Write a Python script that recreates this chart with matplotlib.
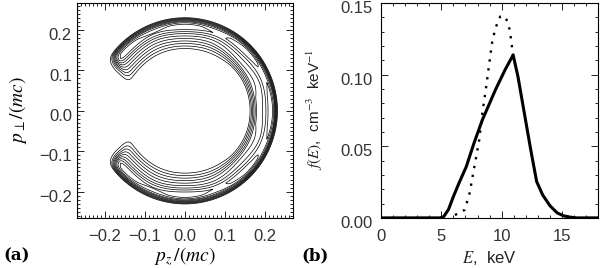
import numpy as np
import matplotlib
matplotlib.use("Agg")
import matplotlib.pyplot as plt
import matplotlib.transforms as mtransforms
from matplotlib.ticker import MultipleLocator

plt.rcParams['font.family'] = ['Liberation Sans', 'DejaVu Sans']
plt.rcParams['mathtext.fontset'] = 'stix'

# --- panel (b): energy spectra ---
E_solid = [0, 4.9, 5.2, 5.6, 6.0, 6.5, 7.07, 7.7, 8.4, 9.0, 9.48, 10.28, 10.95,
           11.35, 11.88, 12.41, 12.9, 13.4, 14.0, 14.6, 15.1, 15.7, 16.2, 18]
f_solid = [0, 0, 0.0009, 0.006, 0.0149, 0.025, 0.0358, 0.052, 0.0684, 0.080,
           0.0893, 0.1033, 0.1137, 0.0986, 0.073, 0.0475, 0.0253, 0.016,
           0.0085, 0.0035, 0.0015, 0.0005, 0, 0]

E_dot = [6.13, 6.94, 7.34, 7.74, 8.14, 8.4, 8.68, 8.94, 9.2, 9.48, 9.88,
         10.15, 10.41, 10.68, 10.81, 10.95]
f_dot = [0.002, 0.0056, 0.0172, 0.0358, 0.0544, 0.073, 0.0893, 0.1056, 0.122,
         0.1324, 0.1405, 0.141, 0.1382, 0.131, 0.122, 0.1137]

# --- panel (a): ring distribution, shape ---
r_knots = [0.10, 0.148, 0.19, 0.20, 0.206, 0.213, 0.219, 0.224, 0.228, 0.232, 0.30]
g_top = [0.0, 0.0, 0.65, 0.85, 0.95, 0.9, 0.74, 0.5, 0.26, 0.0, 0.0]
r_knots_right = [0.10, 0.16, 0.17, 0.18, 0.19, 0.20, 0.21, 0.217, 0.224, 0.233, 0.30]
g_right = [0.0, 0.0, 0.3, 0.6, 0.64, 0.72, 0.9, 0.95, 0.7, 0.0, 0.0]
levels = [0.1, 0.2, 0.3, 0.4, 0.5, 0.6, 0.7, 0.8, 0.9]
cut_s, cut_w = -0.07, 0.012   # loss-cone edge in s = 0.81 pz + 0.58 |p_perp|

pz = np.linspace(-0.27, 0.27, 701)
pp = np.linspace(-0.27, 0.27, 701)
PZ, PP = np.meshgrid(pz, pp)
R = np.hypot(PZ, PP)
TH = np.arctan2(np.abs(PP), PZ)
w_right = np.clip(np.cos(TH), 0, 1) ** 2
G = (1 - w_right) * np.interp(R, r_knots, g_top) + w_right * np.interp(R, r_knots_right, g_right)
S = 0.81 * PZ + 0.58 * np.abs(PP)
H = 0.5 * (1 + np.tanh((S - cut_s) / cut_w))
F = G * H * (1 + 0.04 * np.cos(8 * TH))

fig = plt.figure(figsize=(6.0, 2.68), dpi=100)
ax1 = fig.add_axes([0.128, 0.187, 0.36, 0.802])
ax2 = fig.add_axes([0.635, 0.187, 0.362, 0.802])

ax1.contour(PZ, PP, F, levels=levels, colors='black', linewidths=0.5)
ax1.set_xlim(-0.27, 0.27)
ax1.set_ylim(-0.265, 0.267)
ax1.xaxis.set_major_locator(MultipleLocator(0.1))
ax1.yaxis.set_major_locator(MultipleLocator(0.1))
ax1.xaxis.set_minor_locator(MultipleLocator(0.01))
ax1.yaxis.set_minor_locator(MultipleLocator(0.01))
ax1.xaxis.set_major_formatter(lambda v, p: f"{v:.1f}".replace("-", "\u2212"))
ax1.yaxis.set_major_formatter(lambda v, p: f"{v:.1f}".replace("-", "\u2212"))

ax2.plot(E_solid, f_solid, color='black', lw=2.2)
ax2.plot(E_dot, f_dot, color='black', lw=1.7, ls=(0, (1, 2.8)))
ax2.set_xlim(0, 18)
ax2.set_ylim(0, 0.15)
ax2.xaxis.set_major_locator(MultipleLocator(5))
ax2.xaxis.set_minor_locator(MultipleLocator(1))
ax2.yaxis.set_major_locator(MultipleLocator(0.05))
ax2.yaxis.set_minor_locator(MultipleLocator(0.01))
ax2.yaxis.set_major_formatter(lambda v, p: f"{v:.2f}")

for ax in (ax1, ax2):
    ax.tick_params(which='both', direction='in', top=True, right=True,
                   labelsize=12, labelcolor='#333333', width=0.6)
    ax.tick_params(which='major', length=5)
    ax.tick_params(which='minor', length=2.5)
    ax.tick_params(axis='x', pad=8)
    for sp in ax.spines.values():
        sp.set_linewidth(0.8)
ax1.tick_params(axis='y', pad=3.5)
ax2.tick_params(axis='y', pad=6)

# IDL-style: y tick labels sit a little below their ticks
shift = mtransforms.ScaledTranslation(0, -3 / 72, fig.dpi_scale_trans)
for lab in ax2.get_yticklabels() + ax1.get_yticklabels():
    lab.set_transform(lab.get_transform() + shift)

fig.text(0.308, 0.043, r"$p_z\,/(mc)$", ha='center', va='center', fontsize=14)
fig.text(0.03, 0.59, r"$p_\perp/(mc)$", ha='center', va='center', fontsize=14,
         rotation=90)
fig.text(0.816, 0.037, r"$E$,  keV", ha='center', va='center', fontsize=12,
         color='#222222')
fig.text(0.525, 0.59, r"$f(E)$,  cm$^{-3}$  keV$^{-1}$", ha='center', va='center',
         fontsize=11, rotation=90, color='#222222')
fig.text(0.005, 0.045, "(a)", ha='left', va='center', fontsize=12,
         fontweight='bold', family='DejaVu Serif')
fig.text(0.502, 0.045, "(b)", ha='left', va='center', fontsize=12,
         fontweight='bold', family='DejaVu Serif')

fig.savefig("out.png", dpi=100)
